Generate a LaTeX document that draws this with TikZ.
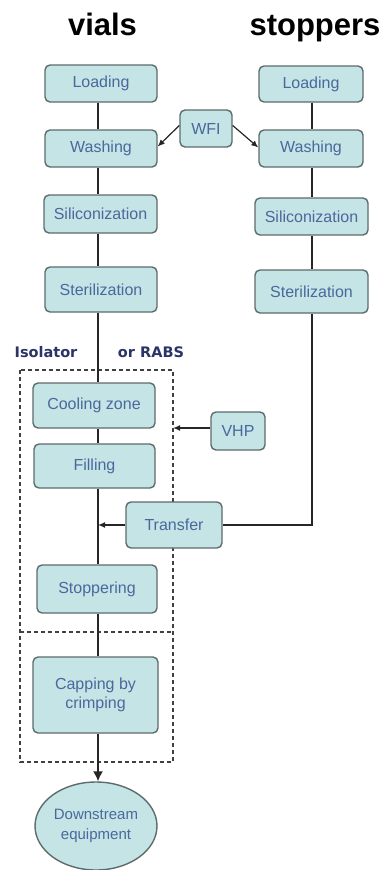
\documentclass[tikz,border=0pt]{standalone}
\usepackage{fontspec}
\setmainfont{Liberation Sans}
\newfontfamily\dvfont{DejaVu Sans}
\usetikzlibrary{arrows.meta,shapes.geometric,calc}
\definecolor{boxfill}{HTML}{C4E4E6}
\definecolor{boxline}{HTML}{5E6C6C}
\definecolor{boxtext}{HTML}{4A689C}
\definecolor{isotext}{HTML}{2A3466}
\definecolor{linecol}{HTML}{262626}
\begin{document}
\begin{tikzpicture}[x=1pt,y=-1pt,
  procbox/.style={draw=boxline,line width=1.4pt,fill=boxfill,rounded corners=5pt,
    inner sep=0pt,align=center,text=boxtext,font=\fontsize{16}{19}\selectfont},
  endell/.style={ellipse,draw=boxline,line width=1.4pt,fill=boxfill,inner sep=0pt,
    align=center,text=boxtext,font=\fontsize{15}{20}\selectfont},
  flow/.style={draw=linecol,line width=1.5pt},
  flowarr/.style={flow,-{Latex[length=7pt,width=6pt]}},
  bigarr/.style={flow,-{Latex[length=10pt,width=10pt]}},
  zone/.style={draw=black!75,line width=1.5pt,dash pattern=on 4pt off 3pt},
  title/.style={font=\bfseries\fontsize{31}{36}\selectfont,anchor=base},
  zonelabel/.style={font=\dvfont\bfseries\fontsize{14.5}{17}\selectfont,text=isotext}]
\useasboundingbox (0,0) rectangle (384,870);
\fill[white] (0,0) rectangle (384,870);
% zone (drawn first, so boxes cover it)
\coordinate (ztl) at (20,370);
\coordinate (zbr) at (173,762);
\coordinate (zmid) at (20,632);
\draw[zone] (ztl) rectangle (zbr);
\draw[zone] (zmid) -- (zmid -| zbr);
\node[zonelabel] (iso) at (46,352) {Isolator};
\node[zonelabel] (rabs) at (151,352) {or RABS};
% titles
\node[title] (tv) at (102.5,35) {vials};
\node[title] (ts) at (315,35) {stoppers};
% spine coordinates
\coordinate (sp) at (98,0);
\coordinate (ssp) at (312,0);
% vials column
\node[procbox,minimum width=112pt,minimum height=37pt] (vl) at (101,83.5) {Loading};
\node[procbox,minimum width=112pt,minimum height=37pt] (vw) at (101,148.5) {Washing};
\node[procbox,minimum width=113pt,minimum height=38pt] (vs) at (100.5,214) {Siliconization};
\node[procbox,minimum width=112pt,minimum height=45pt] (vst) at (101,289.5) {Sterilization};
\node[procbox,minimum width=122pt,minimum height=45pt] (cool) at (94,405.5) {Cooling zone};
\node[procbox,minimum width=121pt,minimum height=44pt] (fill) at (94.5,466) {Filling};
\node[procbox,minimum width=120pt,minimum height=48pt] (stopg) at (97,589) {Stoppering};
\node[procbox,minimum width=125pt,minimum height=76pt] (cap) at (95.5,695) {Capping by\\crimping};
\node[endell,minimum width=122pt,minimum height=88pt] (down) at (96,826) {Downstream\\equipment};
% stoppers column
\node[procbox,minimum width=104pt,minimum height=36pt] (sl) at (311,84) {Loading};
\node[procbox,minimum width=104pt,minimum height=37pt] (sw) at (311,148.5) {Washing};
\node[procbox,minimum width=113pt,minimum height=37pt] (ss) at (311.5,216.5) {Siliconization};
\node[procbox,minimum width=113pt,minimum height=43pt] (sst) at (311.5,291.5) {Sterilization};
% inputs
\node[procbox,minimum width=52pt,minimum height=37pt] (wfi) at (206,128.5) {WFI};
\node[procbox,minimum width=54pt,minimum height=38pt] (vhp) at (238,431) {VHP};
\node[procbox,minimum width=96pt,minimum height=46pt] (tr) at (174,525) {Transfer};
% spine connectors
\draw[flow] (vl.south -| sp) -- (vw.north -| sp);
\draw[flow] (vw.south -| sp) -- (vs.north -| sp);
\draw[flow] (vs.south -| sp) -- (vst.north -| sp);
\draw[flow] (vst.south -| sp) -- (cool.north -| sp);
\draw[flow] (cool.south -| sp) -- (fill.north -| sp);
\draw[flow] (fill.south -| sp) -- (stopg.north -| sp);
\draw[flow] (stopg.south -| sp) -- (cap.north -| sp);
\draw[bigarr] (cap.south -| sp) -- (down.north -| sp);
\draw[flow] (sl.south -| ssp) -- (sw.north -| ssp);
\draw[flow] (sw.south -| ssp) -- (ss.north -| ssp);
\draw[flow] (ss.south -| ssp) -- (sst.north -| ssp);
\draw[flow] (sst.south -| ssp) -- (tr.east -| ssp) -- (tr.east);
% inputs arrows
\draw[flowarr,line width=1.2pt] ([yshift=3pt]wfi.west) -- ([yshift=2pt]vw.east);
\draw[flowarr,line width=1.2pt] ([yshift=3pt]wfi.east) -- ([yshift=1pt]sw.west);
\coordinate (vhpin) at ($(vhp.west)+(0,-3)$);
\draw[flowarr] (vhpin) -- (vhpin -| zbr);
\draw[flowarr] (tr.west) -- (tr.west -| sp);
\end{tikzpicture}
\end{document}
